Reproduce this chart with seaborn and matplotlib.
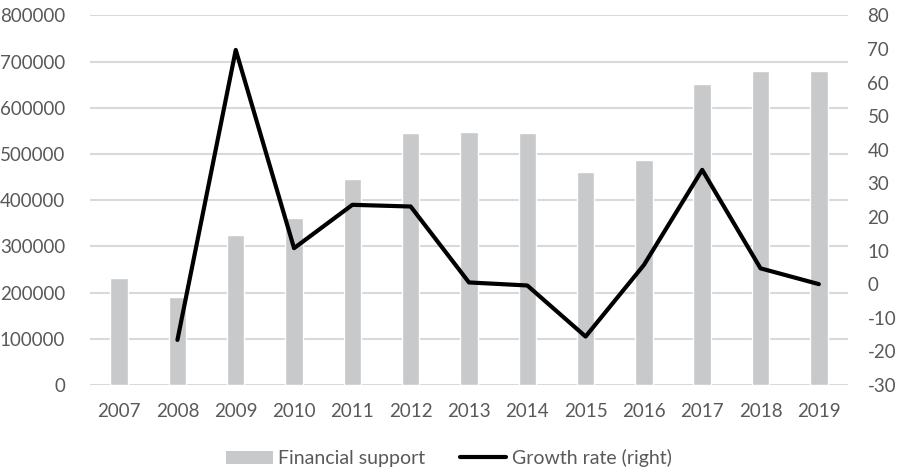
import matplotlib
matplotlib.use("Agg")
import matplotlib.pyplot as plt
import seaborn as sns
import pandas as pd
import numpy as np
from matplotlib.patches import Patch
from matplotlib.lines import Line2D

years = [2007, 2008, 2009, 2010, 2011, 2012, 2013, 2014, 2015, 2016, 2017, 2018, 2019]
financial_support = [231000, 191000, 325000, 361000, 445000, 546000, 548000, 545000,
                     460000, 486000, 651000, 680000, 680000]
growth_rate = [np.nan, -16.6, 69.7, 10.7, 23.6, 23.1, 0.5, -0.4, -15.6, 5.7, 34.0, 4.7, 0.0]
left_ticks = [0, 100000, 200000, 300000, 400000, 500000, 600000, 700000, 800000]
right_ticks = [-30, -20, -10, 0, 10, 20, 30, 40, 50, 60, 70, 80]

df = pd.DataFrame({"year": years, "support": financial_support, "growth": growth_rate})

sns.set_theme(style="white")
plt.rcParams["font.family"] = ["Lato", "DejaVu Sans"]

text_color = "#595959"
bar_color = "#c8c9cb"
grid_color = "#d9d9d9"

fig = plt.figure(figsize=(8.98, 4.70), dpi=100)
ax = fig.add_axes([0.1002, 0.181, 0.8441, 0.7864])

sns.barplot(data=df, x="year", y="support", native_scale=True, width=0.3,
            color=bar_color, saturation=1, ax=ax, zorder=2)
ax.set_ylim(0, 800000)
ax.set_yticks(left_ticks)
ax.set_yticklabels([str(v) for v in left_ticks])
ax.set_xlim(years[0] - 0.5, years[-1] + 0.5)
ax.set_xticks(years)
ax.set_xticklabels([str(y) for y in years])
ax.yaxis.grid(True, color=grid_color, linewidth=1.5, zorder=0)
ax.set_axisbelow(True)
ax.set_xlabel("")
ax.set_ylabel("")
for s in ax.spines.values():
    s.set_visible(False)
ax.tick_params(axis="both", length=0, labelsize=13.5, labelcolor=text_color)
ax.tick_params(axis="y", pad=18)
ax.tick_params(axis="x", pad=13)

ax2 = ax.twinx()
sns.lineplot(data=df.dropna(), x="year", y="growth", color="black", linewidth=3,
             ax=ax2, zorder=3)
ax2.set_ylim(-30, 80)
ax2.set_yticks(right_ticks)
ax2.set_yticklabels([str(v) for v in right_ticks])
ax2.set_ylabel("")
for s in ax2.spines.values():
    s.set_visible(False)
ax2.tick_params(axis="y", length=0, labelsize=13.5, labelcolor=text_color, pad=14)

handles = [Patch(facecolor=bar_color, edgecolor="none"),
           Line2D([0], [0], color="black", linewidth=3)]
labels = ["Financial support", "Growth rate (right)"]
fig.legend(handles, labels, loc="center", bbox_to_anchor=(0.5, 0.025), ncol=2,
           frameon=False, fontsize=14, labelcolor=text_color, handlelength=2.4,
           handletextpad=0.3, columnspacing=1.75)

fig.savefig("out.png", dpi=100)
